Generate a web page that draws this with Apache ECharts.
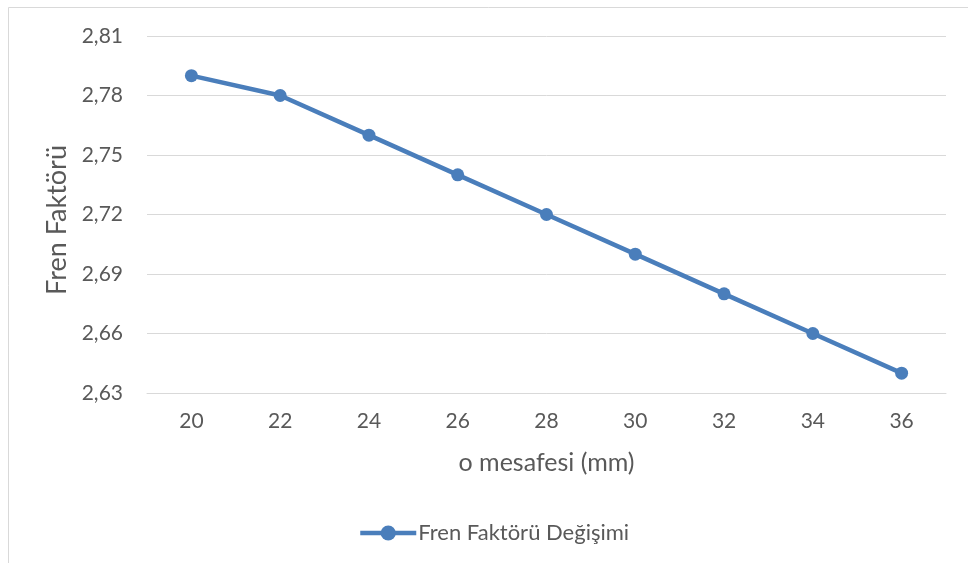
<!DOCTYPE html>
<html>
<head>
<meta charset="utf-8">
<script src="https://cdn.jsdelivr.net/npm/echarts@6/dist/echarts.min.js"></script>
<style>
  html, body { margin: 0; padding: 0; background: #fff; }
  #chart { width: 968px; height: 563px; }
</style>
</head>
<body>
<div id="chart"></div>
<script>
// o mesafesi (mm) categories and brake factor values
const distances = ['20', '22', '24', '26', '28', '30', '32', '34', '36'];
const brakeFactor = [2.79, 2.78, 2.76, 2.74, 2.72, 2.70, 2.68, 2.66, 2.64];
const seriesName = 'Fren Faktörü Değişimi';
const xTitle = 'o mesafesi (mm)';
const yTitle = 'Fren Faktörü';

const FONT = 'Lato, "Open Sans", sans-serif';
const TEXT = '#595959';
const LINE = '#4a7ebb';

const chart = echarts.init(document.getElementById('chart'), null, { renderer: 'canvas' });
chart.setOption({
  backgroundColor: '#fff',
  animation: false,
  textStyle: { fontFamily: FONT },
  graphic: [{
    type: 'rect',
    shape: { x: 8.5, y: 7.5, width: 1000, height: 600 },
    style: { fill: 'none', stroke: '#d9d9d9', lineWidth: 1 },
    silent: true
  }],
  grid: { left: 147, right: 22, top: 36, bottom: 170 },
  legend: {
    bottom: 14,
    left: 353,
    itemWidth: 56,
    itemHeight: 19,
    itemGap: 10,
    lineStyle: { width: 4.5 },
    textStyle: { color: TEXT, fontSize: 22, fontFamily: FONT, padding: [0, 0, 0, -3] },
    data: [seriesName]
  },
  xAxis: {
    type: 'category',
    data: distances,
    boundaryGap: true,
    name: xTitle,
    nameLocation: 'middle',
    nameGap: 57,
    nameTextStyle: { color: TEXT, fontSize: 25, fontFamily: FONT },
    axisLine: { show: true, lineStyle: { color: '#d9d9d9', width: 1 } },
    axisTick: { show: false },
    axisLabel: { color: TEXT, fontSize: 21, margin: 18, fontFamily: FONT }
  },
  yAxis: {
    type: 'value',
    min: 2.63,
    max: 2.81,
    interval: 0.03,
    name: yTitle,
    nameLocation: 'middle',
    nameGap: 76,
    nameTextStyle: { color: TEXT, fontSize: 27, fontFamily: FONT, padding: [0, 11, 0, 0] },
    axisLine: { show: false },
    axisTick: { show: false },
    splitLine: { lineStyle: { color: '#d9d9d9', width: 1 } },
    axisLabel: {
      color: TEXT, fontSize: 21, margin: 24, fontFamily: FONT,
      formatter: v => v.toFixed(2).replace('.', ',')
    }
  },
  series: [{
    name: seriesName,
    type: 'line',
    data: brakeFactor,
    symbol: 'circle',
    symbolSize: 13,
    lineStyle: { color: LINE, width: 4.5 },
    itemStyle: { color: LINE },
    z: 3
  }]
});
</script>
</body>
</html>
